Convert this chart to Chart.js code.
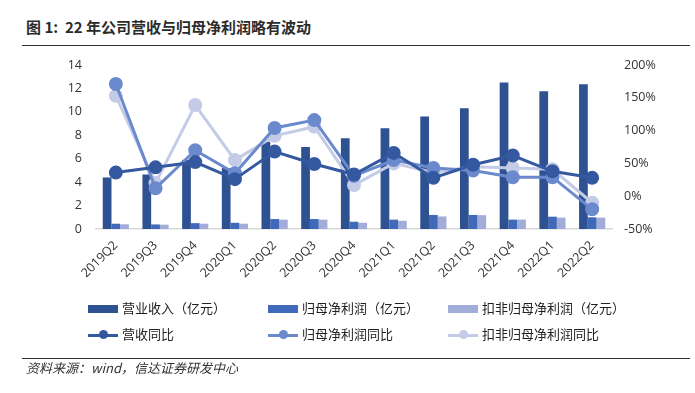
<!DOCTYPE html>
<html>
<head>
<meta charset="utf-8">
<script src="https://cdn.jsdelivr.net/npm/chart.js@4/dist/chart.umd.min.js"></script>
<style>
  html, body { margin: 0; padding: 0; background: #fff; }
  body { width: 695px; height: 393px; position: relative; overflow: hidden;
         font-family: "Noto Sans CJK SC", "Open Sans", sans-serif; color: #333; }
  #title { position: absolute; left: 26px; top: 16px; font-size: 15px; font-weight: bold; color: #2b2b2b; }
  .rule { position: absolute; left: 22px; width: 668px; height: 0; border-top: 1.5px solid #333; }
  #wrap { position: absolute; left: 0; top: 0; width: 695px; height: 300px; }
  #legend { position: absolute; left: 0; top: 298px; width: 695px; height: 50px; font-size: 13px; color: #222; }
  .item { position: absolute; height: 20px; line-height: 20px; white-space: nowrap; }
  .sw { display: inline-block; width: 30px; vertical-align: middle; margin-right: 4px; position: relative; }
  #source { position: absolute; left: 26px; top: 358px; font-size: 13px; font-style: italic; color: #333; }
</style>
</head>
<body>
<div id="title">图 1:&nbsp; 22 年公司营收与归母净利润略有波动</div>
<div class="rule" style="top:45px"></div>
<div id="wrap"><canvas id="c"></canvas></div>
<div id="legend"></div>
<div class="rule" style="top:358px"></div>
<div id="source">资料来源：wind，信达证券研发中心</div>
<script>
// 数据
const quarters = ['2019Q2', '2019Q3', '2019Q4', '2020Q1', '2020Q2', '2020Q3', '2020Q4',
  '2021Q1', '2021Q2', '2021Q3', '2021Q4', '2022Q1', '2022Q2'];
const revenue = [4.4, 4.65, 5.9, 5.2, 7.45, 7.0, 7.75, 8.6, 9.6, 10.3, 12.5, 11.75, 12.35];
const netProfit = [0.45, 0.39, 0.5, 0.53, 0.85, 0.85, 0.62, 0.8, 1.2, 1.2, 0.8, 1.05, 1.0];
const deductedProfit = [0.4, 0.37, 0.45, 0.45, 0.8, 0.8, 0.53, 0.7, 1.07, 1.18, 0.8, 0.97, 0.97];
const revenueYoY = [36, 44, 52, 26, 68, 49, 33, 66, 28, 48, 62, 38, 28];
const netProfitYoY = [171, 12, 70, 35, 104, 116, 31, 55, 43, 39, 29, 29, -20];
const deductedYoY = [153, 20, 139, 55, 92, 106, 17, 50, 36, 45, 43, 41, -10];
const leftTicks = [0, 2, 4, 6, 8, 10, 12, 14];
const rightTicks = [-50, 0, 50, 100, 150, 200];

const C_BAR1 = '#2E5192';
const C_BAR2 = '#4169B9';
const C_BAR3 = '#A2ACD9';
const C_LINE1 = '#3459A0';
const C_LINE2 = '#6B89CD';
const C_LINE3 = '#C4CBE7';

function lineSet(label, data, color) {
  return {
    type: 'line', label: label, data: data, yAxisID: 'y2', order: 0,
    borderColor: color, backgroundColor: color, borderWidth: 3,
    pointRadius: 5.5, pointBackgroundColor: color, pointBorderColor: color,
    tension: 0, fill: false,
  };
}
function barSet(label, data, color) {
  return {
    type: 'bar', label: label, data: data, yAxisID: 'y', order: 1,
    backgroundColor: color, categoryPercentage: 0.66, barPercentage: 1.0,
  };
}

const tickFont = { family: '"Open Sans", "DejaVu Sans", sans-serif', size: 12.5 };

new Chart(document.getElementById('c'), {
  data: {
    labels: quarters,
    datasets: [
      barSet('营业收入（亿元）', revenue, C_BAR1),
      barSet('归母净利润（亿元）', netProfit, C_BAR2),
      barSet('扣非归母净利润（亿元）', deductedProfit, C_BAR3),
      lineSet('营收同比', revenueYoY, C_LINE1),
      lineSet('归母净利润同比', netProfitYoY, C_LINE2),
      lineSet('扣非归母净利润同比', deductedYoY, C_LINE3),
    ],
  },
  options: {
    responsive: true,
    maintainAspectRatio: false,
    animation: false,
    layout: { padding: { top: 65, left: 0, right: 0, bottom: 0 } },
    plugins: { legend: { display: false }, tooltip: { enabled: false } },
    scales: {
      x: {
        grid: { display: false, drawTicks: false },
        border: { display: true, color: '#D9D9D9', width: 1.5 },
        ticks: { maxRotation: 45, minRotation: 45, color: '#333', font: tickFont, padding: 9 },
        afterFit: (s) => { s.height = 71; },
      },
      y: {
        position: 'left', min: 0, max: 14,
        grid: { display: false, drawTicks: false },
        border: { display: false },
        afterBuildTicks: (s) => { s.ticks = leftTicks.map((v) => ({ value: v })); },
        ticks: { color: '#333', font: tickFont, padding: 14 },
        afterFit: (s) => { s.width = 96; },
      },
      y2: {
        position: 'right', min: -50, max: 200,
        grid: { display: false, drawTicks: false },
        border: { display: false },
        afterBuildTicks: (s) => { s.ticks = rightTicks.map((v) => ({ value: v })); },
        ticks: { color: '#333', font: tickFont, padding: 12, callback: (v) => v + '%' },
        afterFit: (s) => { s.width = 83; },
      },
    },
  },
});

// 图例（三列两行）
const legendItems = [
  { label: '营业收入（亿元）', color: C_BAR1, kind: 'bar', x: 88, y: 0 },
  { label: '归母净利润（亿元）', color: C_BAR2, kind: 'bar', x: 268, y: 0 },
  { label: '扣非归母净利润（亿元）', color: C_BAR3, kind: 'bar', x: 448, y: 0 },
  { label: '营收同比', color: C_LINE1, kind: 'line', x: 88, y: 26 },
  { label: '归母净利润同比', color: C_LINE2, kind: 'line', x: 268, y: 26 },
  { label: '扣非归母净利润同比', color: C_LINE3, kind: 'line', x: 448, y: 26 },
];
const legend = document.getElementById('legend');
legendItems.forEach((it) => {
  const d = document.createElement('div');
  d.className = 'item';
  d.style.left = it.x + 'px';
  d.style.top = it.y + 'px';
  let sw;
  if (it.kind === 'bar') {
    sw = '<span class="sw" style="height:8px;background:' + it.color + '"></span>';
  } else {
    sw = '<span class="sw" style="height:3px;background:' + it.color + '">' +
      '<span style="position:absolute;left:11px;top:-3.5px;width:9px;height:9px;border-radius:50%;background:' +
      it.color + '"></span></span>';
  }
  d.innerHTML = sw + '<span>' + it.label + '</span>';
  legend.appendChild(d);
});
</script>
</body>
</html>
